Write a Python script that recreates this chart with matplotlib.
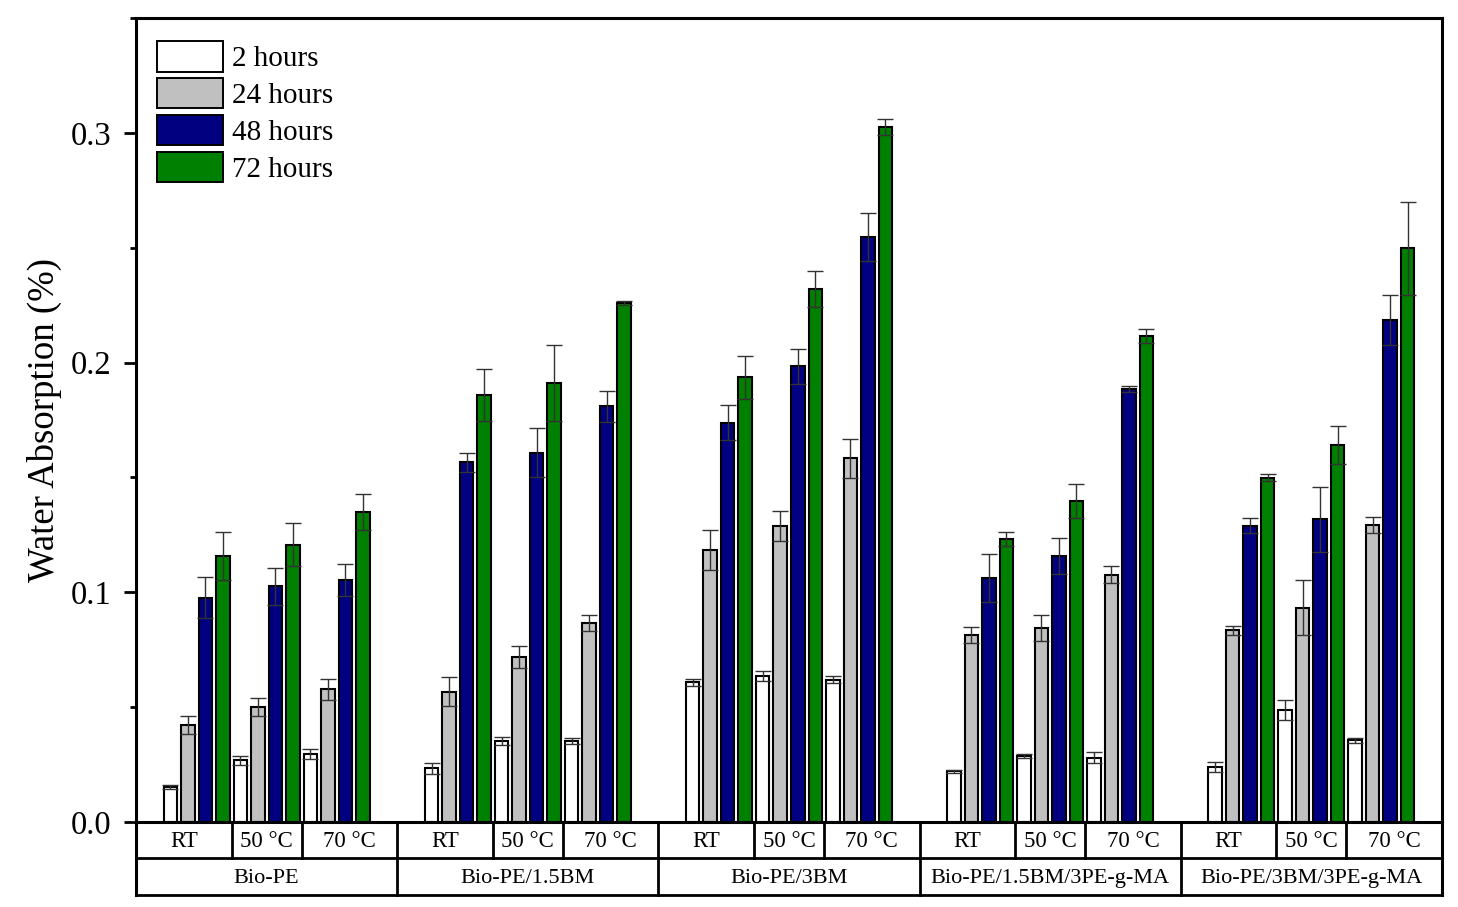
import matplotlib
matplotlib.use("Agg")
import matplotlib.pyplot as plt
import matplotlib.transforms as mtransforms
from matplotlib.patches import Patch
from matplotlib.ticker import MultipleLocator
import numpy as np

plt.rcParams['font.family'] = ['Liberation Serif', 'DejaVu Serif']

groups = ["Bio-PE", "Bio-PE/1.5BM", "Bio-PE/3BM", "Bio-PE/1.5BM/3PE-g-MA", "Bio-PE/3BM/3PE-g-MA"]
temps = ["RT", "50 °C", "70 °C"]
series = ["2 hours", "24 hours", "48 hours", "72 hours"]
colors = ["#FFFFFF", "#C0C0C0", "#000080", "#008000"]

# values ordered group-major, temp-minor (15 entries per series)
h2 = [0.0153, 0.0268, 0.0296,
      0.0233, 0.0353, 0.0353,
      0.0608, 0.0636, 0.0619,
      0.0220, 0.0288, 0.0280,
      0.0238, 0.0487, 0.0356]
h2_err = [0.0010, 0.0020, 0.0023,
          0.0022, 0.0017, 0.0013,
          0.0015, 0.0022, 0.0015,
          0.0005, 0.0010, 0.0025,
          0.0022, 0.0042, 0.0011]
h24 = [0.0422, 0.0500, 0.0577,
       0.0568, 0.0717, 0.0867,
       0.1185, 0.1290, 0.1583,
       0.0815, 0.0844, 0.1076,
       0.0835, 0.0932, 0.1293]
h24_err = [0.0040, 0.0040, 0.0045,
           0.0065, 0.0047, 0.0036,
           0.0088, 0.0066, 0.0085,
           0.0036, 0.0055, 0.0037,
           0.0020, 0.0120, 0.0036]
h48 = [0.0977, 0.1026, 0.1055,
       0.1565, 0.1607, 0.1810,
       0.1739, 0.1983, 0.2547,
       0.1061, 0.1158, 0.1885,
       0.1290, 0.1317, 0.2184]
h48_err = [0.0090, 0.0080, 0.0070,
           0.0040, 0.0107, 0.0067,
           0.0077, 0.0076, 0.0105,
           0.0105, 0.0080, 0.0015,
           0.0033, 0.0140, 0.0108]
h72 = [0.1157, 0.1207, 0.1349,
       0.1858, 0.1910, 0.2259,
       0.1936, 0.2320, 0.3025,
       0.1233, 0.1398, 0.2115,
       0.1498, 0.1641, 0.2498]
h72_err = [0.0105, 0.0094, 0.0080,
           0.0113, 0.0165, 0.0010,
           0.0094, 0.0077, 0.0035,
           0.0030, 0.0074, 0.0030,
           0.0015, 0.0083, 0.0202]

values = [h2, h24, h48, h72]
errors = [h2_err, h24_err, h48_err, h72_err]

G = 3.73                 # width of one material group in temp-slot units
margin = (G - 2) / 2.0
pitch = 0.25
bw = 0.193

fig = plt.figure(figsize=(14.58, 9.07), dpi=100)
ax = fig.add_axes([136/1458, 85/907, 1306/1458, 804/907])

centers = np.array([g * G + t for g in range(len(groups)) for t in range(len(temps))])

for i, (vals, errs, col) in enumerate(zip(values, errors, colors)):
    x = centers + (i - 1.5) * pitch
    ax.bar(x, vals, width=bw, color=col, edgecolor='black', linewidth=1.5, zorder=2)
    ax.errorbar(x, vals, yerr=errs, fmt='none', ecolor='#333333', elinewidth=1.0,
                capsize=5.5, capthick=1.0, zorder=3)

ax.set_xlim(-margin, len(groups) * G - margin)
ax.set_ylim(0, 0.35)
ax.yaxis.set_major_locator(MultipleLocator(0.1))
ax.yaxis.set_minor_locator(MultipleLocator(0.05))
ax.yaxis.set_major_formatter(matplotlib.ticker.FormatStrFormatter('%.1f'))
ax.tick_params(axis='y', which='major', direction='out', length=9, width=2, pad=9, labelsize=23.5)
ax.tick_params(axis='y', which='minor', direction='out', length=4, width=2)
ax.tick_params(axis='x', which='both', bottom=False, labelbottom=False)
for s in ax.spines.values():
    s.set_linewidth(2.2)
ax.set_ylabel("Water Absorption (%)", fontsize=26.5, labelpad=6)

# category table below axis
trans = mtransforms.blended_transform_factory(ax.transData, ax.transAxes)
r1 = -36 / 804
r2 = -73 / 804
x0, x1 = ax.get_xlim()
lw = 2.0
ax.plot([x0, x1], [r1, r1], transform=trans, color='black', lw=lw, clip_on=False, solid_capstyle='projecting')
ax.plot([x0, x1], [r2, r2], transform=trans, color='black', lw=lw, clip_on=False, solid_capstyle='projecting')
ax.plot([x0, x0], [0, r2], transform=trans, color='black', lw=2.2, clip_on=False, solid_capstyle='projecting')
ax.plot([x1, x1], [0, r2], transform=trans, color='black', lw=2.2, clip_on=False, solid_capstyle='projecting')
for g, name in enumerate(groups):
    gl = g * G - margin
    gr = gl + G
    if g > 0:
        ax.plot([gl, gl], [0, r2], transform=trans, color='black', lw=lw, clip_on=False)
    bounds = [gl, g * G + 0.5, g * G + 1.5, gr]
    for t, tn in enumerate(temps):
        if t > 0:
            ax.plot([bounds[t], bounds[t]], [0, r1], transform=trans, color='black', lw=lw, clip_on=False)
        ax.text((bounds[t] + bounds[t + 1]) / 2, r1 / 2 - 0.002, tn, transform=trans,
                ha='center', va='center', fontsize=16.5)
    ax.text((gl + gr) / 2, (r1 + r2) / 2 - 0.002, name, transform=trans,
            ha='center', va='center', fontsize=16)

handles = [Patch(facecolor=c, edgecolor='black', linewidth=1.4) for c in colors]
ax.legend(handles, series, loc='upper left', bbox_to_anchor=(0.016, 0.971), frameon=False,
          fontsize=21, handlelength=2.26, handleheight=1.22, labelspacing=0.2,
          handletextpad=0.3, borderpad=0, borderaxespad=0)

fig.savefig("out.png", dpi=100)
